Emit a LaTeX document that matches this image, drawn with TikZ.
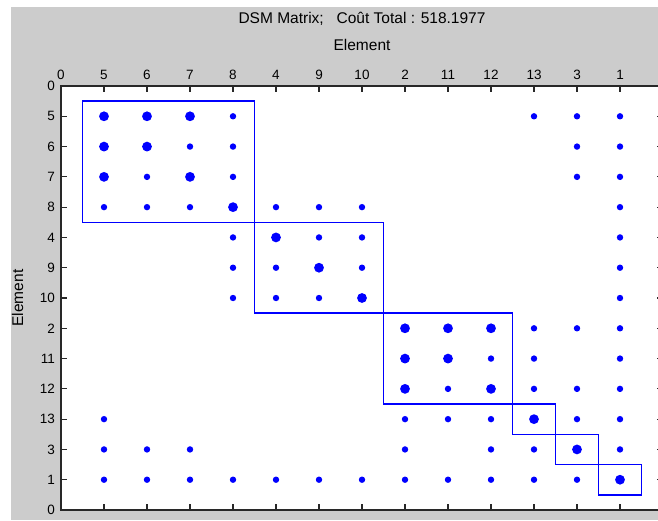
\documentclass[tikz,border=0pt]{standalone}
\usepackage{fontspec}
\setmainfont{Liberation Sans}
\definecolor{figgray}{RGB}{204,204,204}
\definecolor{axcol}{RGB}{40,40,40}
\definecolor{dsmblue}{RGB}{0,0,255}
\tikzset{
  smalldot/.style={circle,fill=dsmblue,inner sep=0pt,minimum size=6.4pt},
  bigdot/.style={circle,fill=dsmblue,inner sep=0pt,minimum size=9.8pt},
  blockbox/.style={draw=dsmblue,line width=1.5pt},
  axisline/.style={draw=axcol,line width=1.4pt},
  tickline/.style={draw=axcol,line width=1.2pt},
  ticklab/.style={font=\fontsize{13.5}{14}\selectfont,inner sep=0pt,text=black},
  bigtext/.style={font=\fontsize{15.5}{16}\selectfont,inner sep=0pt,text=black}
}
\begin{document}
\begin{tikzpicture}[x=1pt,y=-1pt]
\useasboundingbox (0,0) rectangle (658,520);
\clip (0,0) rectangle (658,520);
\fill[figgray] (11,7) rectangle (658,520);
\fill[white] (61,86) rectangle (663,510);
% small dots: row / list of columns
\foreach \r/\cols in {1/{4,11,12,13},2/{3,4,12,13},3/{2,4,12,13},4/{1,2,3,5,6,7,13},
  5/{4,6,7,13},6/{4,5,7,13},7/{4,5,6,13},8/{11,12,13},9/{10,11,13},10/{9,11,12,13},
  11/{1,8,9,10,12,13},12/{1,2,3,8,10,11,13},13/{1,2,3,4,5,6,7,8,9,10,11,12}}{
  \foreach \c in \cols {
    \node[smalldot] (s-\r-\c) at ({61+43*\c},{86+30.2857*\r}) {};
  }
}
% big dots
\foreach \c/\r in {1/1,2/1,3/1,1/2,2/2,1/3,3/3,4/4,5/5,6/6,7/7,8/8,9/8,10/8,8/9,9/9,8/10,10/10,11/11,12/12,13/13}{
  \node[bigdot] (b-\r-\c) at ({61+43*\c},{86+30.2857*\r}) {};
}
% blocks
\foreach \a/\b in {0.5/4.5,4.5/7.5,7.5/10.5,10.5/11.5,11.5/12.5,12.5/13.5}{
  \draw[blockbox] ({61+43*\a},{86+30.2857*\a}) rectangle ({61+43*\b},{86+30.2857*\b});
}
% axes
\draw[axisline] (61,86) rectangle (663,510);
\foreach \i in {1,...,13}{
  \draw[tickline] ({61+43*\i},86) -- ({61+43*\i},92);
  \draw[tickline] ({61+43*\i},510) -- ({61+43*\i},504);
  \draw[tickline] (61,{86+30.2857*\i}) -- (67,{86+30.2857*\i});
  \draw[tickline] (663,{86+30.2857*\i}) -- (657,{86+30.2857*\i});
}
% tick labels
\foreach \lab [count=\i from 0] in {0,5,6,7,8,4,9,10,2,11,12,13,3,1,0}{
  \node[ticklab,anchor=base] (xl-\i) at ({61+43*\i},79) {\lab};
  \node[ticklab,anchor=east] (yl-\i) at (55,{86+30.2857*\i}) {\lab};
}
% titles
\node[bigtext,anchor=base] (title) at (362,23) {DSM Matrix;\ \ \ Coût Total : 518.1977};
\node[bigtext,anchor=base] (xlabel) at (362,50) {Element};
\node[bigtext,rotate=90] (ylabel) at (17.5,298) {Element};
\end{tikzpicture}
\end{document}
